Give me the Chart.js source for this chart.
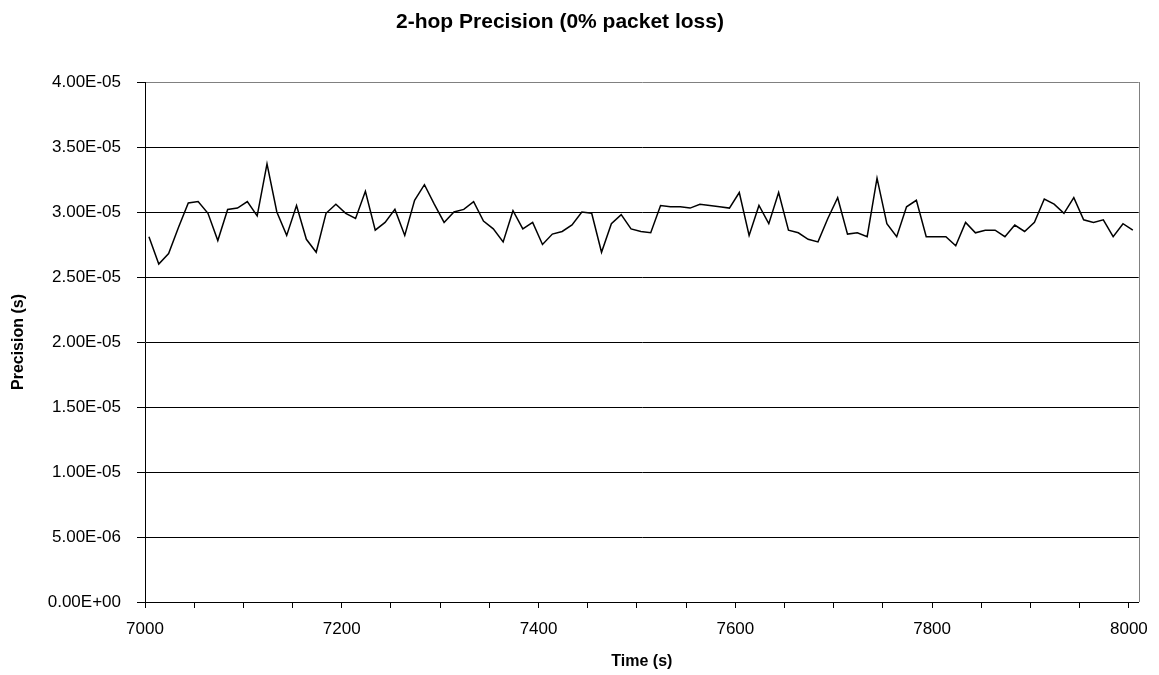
<!DOCTYPE html>
<html>
<head>
<meta charset="utf-8">
<title>2-hop Precision (0% packet loss)</title>
<script src="https://cdn.jsdelivr.net/npm/chart.js@4.4.1/dist/chart.umd.min.js"></script>
<style>
  html, body { margin: 0; padding: 0; background: #ffffff; }
  #wrap { width: 1159px; height: 675px; }
</style>
</head>
<body>
<div id="wrap"><canvas id="chart" width="1159" height="675"></canvas></div>
<script>
// Sample times (s)
const times = [
  7004, 7014, 7024, 7034, 7044, 7054, 7064, 7074, 7084, 7094,
  7104, 7114, 7124, 7134, 7144, 7154, 7164, 7174, 7184, 7194,
  7204, 7214, 7224, 7234, 7244, 7254, 7264, 7274, 7284, 7294,
  7304, 7314, 7324, 7334, 7344, 7354, 7364, 7374, 7384, 7394,
  7404, 7414, 7424, 7434, 7444, 7454, 7464, 7474, 7484, 7494,
  7504, 7514, 7524, 7534, 7544, 7554, 7564, 7574, 7584, 7594,
  7604, 7614, 7624, 7634, 7644, 7654, 7664, 7674, 7684, 7694,
  7704, 7714, 7724, 7734, 7744, 7754, 7764, 7774, 7784, 7794,
  7804, 7814, 7824, 7834, 7844, 7854, 7864, 7874, 7884, 7894,
  7904, 7914, 7924, 7934, 7944, 7954, 7964, 7974, 7984, 7994,
  8004
];

// Measured precision (s)
const precision = [
  2.81e-5, 2.60e-5, 2.68e-5, 2.88e-5, 3.07e-5, 3.08e-5, 2.99e-5, 2.78e-5, 3.02e-5, 3.03e-5,
  3.08e-5, 2.97e-5, 3.37e-5, 3.00e-5, 2.82e-5, 3.05e-5, 2.79e-5, 2.69e-5, 2.99e-5, 3.06e-5,
  2.99e-5, 2.95e-5, 3.16e-5, 2.86e-5, 2.92e-5, 3.02e-5, 2.82e-5, 3.09e-5, 3.21e-5, 3.06e-5,
  2.92e-5, 3.00e-5, 3.02e-5, 3.08e-5, 2.93e-5, 2.87e-5, 2.77e-5, 3.01e-5, 2.87e-5, 2.92e-5,
  2.75e-5, 2.83e-5, 2.85e-5, 2.90e-5, 3.00e-5, 2.99e-5, 2.69e-5, 2.91e-5, 2.98e-5, 2.87e-5,
  2.85e-5, 2.84e-5, 3.05e-5, 3.04e-5, 3.04e-5, 3.03e-5, 3.06e-5, 3.05e-5, 3.04e-5, 3.03e-5,
  3.15e-5, 2.82e-5, 3.05e-5, 2.91e-5, 3.15e-5, 2.86e-5, 2.84e-5, 2.79e-5, 2.77e-5, 2.95e-5,
  3.11e-5, 2.83e-5, 2.84e-5, 2.81e-5, 3.26e-5, 2.91e-5, 2.81e-5, 3.04e-5, 3.09e-5, 2.81e-5,
  2.81e-5, 2.81e-5, 2.74e-5, 2.92e-5, 2.84e-5, 2.86e-5, 2.86e-5, 2.81e-5, 2.90e-5, 2.85e-5,
  2.92e-5, 3.10e-5, 3.06e-5, 2.99e-5, 3.11e-5, 2.94e-5, 2.92e-5, 2.94e-5, 2.81e-5, 2.91e-5,
  2.86e-5
];

// Axis tick positions
const xTicks = [7000, 7050, 7100, 7150, 7200, 7250, 7300, 7350, 7400, 7450,
                7500, 7550, 7600, 7650, 7700, 7750, 7800, 7850, 7900, 7950, 8000];
const xLabelled = [7000, 7200, 7400, 7600, 7800, 8000];
const yTicks = [0, 5e-6, 1e-5, 1.5e-5, 2e-5, 2.5e-5, 3e-5, 3.5e-5, 4e-5];

const chartTitle = '2-hop Precision (0% packet loss)';

Chart.defaults.font.family = '"Liberation Sans", Arial, Helvetica, sans-serif';
Chart.defaults.color = '#000';

// Spreadsheet-style scientific notation, e.g. 3.50E-05
function sci(v) {
  const parts = Number(v).toExponential(2).split('e');
  const exp = parseInt(parts[1], 10);
  const sign = exp < 0 ? '-' : '+';
  return parts[0] + 'E' + sign + String(Math.abs(exp)).padStart(2, '0');
}

// Title and right-hand frame edge
const frame = {
  id: 'frame',
  afterDraw(chart) {
    const { ctx, chartArea } = chart;
    ctx.save();
    ctx.strokeStyle = '#808080';
    ctx.lineWidth = 1;
    ctx.beginPath();
    ctx.moveTo(Math.round(chartArea.right) + 0.5, chartArea.top);
    ctx.lineTo(Math.round(chartArea.right) + 0.5, chartArea.bottom);
    ctx.stroke();

    ctx.fillStyle = '#000';
    ctx.font = 'bold 21px "Liberation Sans", Arial, sans-serif';
    ctx.textAlign = 'center';
    ctx.textBaseline = 'middle';
    ctx.fillText(chartTitle, 560, 22);
    ctx.restore();
  }
};

new Chart(document.getElementById('chart'), {
  type: 'line',
  data: {
    datasets: [{
      label: 'Precision',
      data: times.map((t, i) => ({ x: t, y: precision[i] })),
      borderColor: '#000',
      borderWidth: 1.5,
      pointRadius: 0,
      tension: 0,
      fill: false
    }]
  },
  options: {
    responsive: false,
    animation: false,
    devicePixelRatio: 1,
    layout: { padding: { top: 82, right: 19, left: 0, bottom: 0 } },
    plugins: {
      legend: { display: false },
      tooltip: { enabled: false },
      title: { display: false }
    },
    scales: {
      x: {
        type: 'linear',
        min: 7000,
        max: 8010,
        afterBuildTicks(axis) { axis.ticks = xTicks.map(v => ({ value: v })); },
        afterFit(scale) { scale.height = 73; },
        ticks: {
          autoSkip: false,
          maxRotation: 0,
          padding: 11,
          font: { size: 17 },
          color: '#000',
          callback: v => (xLabelled.includes(v) ? String(v) : '')
        },
        grid: { drawOnChartArea: false, drawTicks: true, tickLength: 6, tickColor: '#000' },
        border: { display: true, color: '#000', width: 1 },
        title: {
          display: true,
          text: 'Time (s)',
          color: '#000',
          font: { size: 16, weight: 'bold' },
          padding: { top: 0, bottom: 4 }
        }
      },
      y: {
        min: 0,
        max: 4e-5,
        afterBuildTicks(axis) { axis.ticks = yTicks.map(v => ({ value: v })); },
        afterFit(scale) { scale.width = 145; },
        ticks: {
          padding: 16,
          font: { size: 17 },
          color: '#000',
          callback: v => sci(v)
        },
        grid: {
          color: c => (c.tick && c.tick.value >= 4e-5 ? '#808080' : '#000'),
          lineWidth: 1,
          drawTicks: true,
          tickLength: 8,
          tickColor: '#000'
        },
        border: { display: true, color: '#000', width: 1 },
        title: {
          display: true,
          text: 'Precision (s)',
          color: '#000',
          font: { size: 16, weight: 'bold' },
          padding: { top: 9, bottom: 0 }
        }
      }
    }
  },
  plugins: [frame]
});
</script>
</body>
</html>
